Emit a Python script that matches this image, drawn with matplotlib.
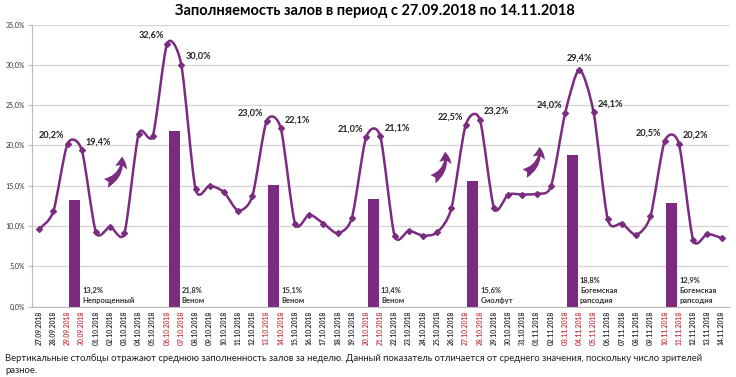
import numpy as np
import matplotlib.pyplot as plt
from matplotlib.path import Path
from matplotlib.patches import PathPatch

# ---------------- data ----------------
dates = ["27.09.2018", "28.09.2018", "29.09.2018", "30.09.2018", "01.10.2018", "02.10.2018",
         "03.10.2018", "04.10.2018", "05.10.2018", "06.10.2018", "07.10.2018", "08.10.2018",
         "09.10.2018", "10.10.2018", "11.10.2018", "12.10.2018", "13.10.2018", "14.10.2018",
         "15.10.2018", "16.10.2018", "17.10.2018", "18.10.2018", "19.10.2018", "20.10.2018",
         "21.10.2018", "22.10.2018", "23.10.2018", "24.10.2018", "25.10.2018", "26.10.2018",
         "27.10.2018", "28.10.2018", "29.10.2018", "30.10.2018", "31.10.2018", "01.11.2018",
         "02.11.2018", "03.11.2018", "04.11.2018", "05.11.2018", "06.11.2018", "07.11.2018",
         "08.11.2018", "09.11.2018", "10.11.2018", "11.11.2018", "12.11.2018", "13.11.2018",
         "14.11.2018"]
daily = [9.6, 11.8, 20.2, 19.4, 9.2, 9.9, 9.1, 21.4, 21.2, 32.6, 30.0, 14.6,
         15.0, 14.2, 11.9, 13.7, 23.0, 22.1, 10.3, 11.4, 10.3, 9.1, 11.0, 21.0,
         21.1, 8.8, 9.4, 8.8, 9.2, 12.2, 22.5, 23.2, 12.2, 13.9, 13.9, 14.0,
         14.9, 24.0, 29.4, 24.1, 10.8, 10.3, 8.9, 11.2, 20.5, 20.2, 8.3, 9.0, 8.5]
red_dates = ["29.09.2018", "30.09.2018", "06.10.2018", "07.10.2018", "13.10.2018",
             "14.10.2018", "20.10.2018", "21.10.2018", "27.10.2018", "28.10.2018",
             "03.11.2018", "04.11.2018", "05.11.2018", "10.11.2018", "11.11.2018"]
labeled_dates = ["29.09.2018", "30.09.2018", "06.10.2018", "07.10.2018", "13.10.2018",
                 "14.10.2018", "20.10.2018", "21.10.2018", "27.10.2018", "28.10.2018",
                 "03.11.2018", "04.11.2018", "05.11.2018", "10.11.2018", "11.11.2018"]

# weekly bars (placed between Saturday and Sunday)
week_start = ["29.09.2018", "06.10.2018", "13.10.2018", "20.10.2018",
              "27.10.2018", "03.11.2018", "10.11.2018"]
week_avg = [13.2, 21.8, 15.1, 13.4, 15.6, 18.8, 12.9]
week_film = ["Непрощенный", "Веном", "Веном", "Веном", "Смолфут",
             "Богемская\nрапсодия", "Богемская\nрапсодия"]

title = "Заполняемость залов в период с 27.09.2018 по 14.11.2018"
caption = ("Вертикальные столбцы отражают среднюю заполненность залов за неделю. "
           "Данный показатель отличается от среднего значения, поскольку число зрителей\nразное.")

# ---------------- style ----------------
PURPLE = "#7b2c80"
RED = "#c8414b"
plt.rcParams['font.family'] = ['Lato', 'DejaVu Sans']

fig = plt.figure(figsize=(7.36, 3.77), dpi=100)
ax = fig.add_axes([0.0435, 0.187, 0.9465, 0.748])

x = np.arange(len(dates))
y = np.array(daily)

# bars
bx = [dates.index(d) + 0.5 for d in week_start]
ax.bar(bx, week_avg, width=0.75, color=PURPLE, zorder=2)
for xi, v, name in zip(bx, week_avg, week_film):
    ax.annotate(f"{v:.1f}%".replace(".", ",") + "\n" + name, (xi + 0.4, 0.3),
                xytext=(2, 0), textcoords="offset pixels", ha="left", va="bottom",
                fontsize=5.4, fontweight="bold", color="#333333", linespacing=1.5)

# smoothed line (bezier through the points, like Excel's smooth line)
pts = np.column_stack([x, y])
verts = [pts[0]]
codes = [Path.MOVETO]
for i in range(len(pts) - 1):
    p0 = pts[i - 1] if i > 0 else pts[i]
    p1, p2 = pts[i], pts[i + 1]
    p3 = pts[i + 2] if i + 2 < len(pts) else pts[i + 1]
    c1 = p1 + (p2 - p0) / 8
    c2 = p2 - (p3 - p1) / 8
    verts += [c1, c2, p2]
    codes += [Path.CURVE4] * 3
ax.add_patch(PathPatch(Path(verts, codes), fill=False, edgecolor=PURPLE, lw=1.8, zorder=3))
ax.plot(x, y, ls="none", marker="D", ms=3, color=PURPLE, zorder=4)

# value labels at the weekend peaks
for d in labeled_dates:
    i = dates.index(d)
    txt = f"{daily[i]:.1f}%".replace(".", ",")
    if d == "04.11.2018":
        off, ha = (0, 7), "center"
    elif d in ("30.09.2018", "07.10.2018", "14.10.2018", "21.10.2018",
               "28.10.2018", "05.11.2018", "11.11.2018"):
        off, ha = (4, 4), "left"
    else:
        off, ha = (-3, 4), "right"
    ax.annotate(txt, (i, daily[i]), xytext=off, textcoords="offset pixels",
                ha=ha, va="bottom", fontsize=6.6, fontweight="bold", color="#222222")

# curved arrows
for tail, head in [((4.7, 15.3), (5.83, 18.6)), ((27.7, 15.8), (28.55, 19.2)),
                   ((34.15, 16.5), (35.2, 19.8))]:
    ax.annotate("", xy=head, xytext=tail,
                arrowprops=dict(arrowstyle="fancy,head_width=0.9,head_length=0.8,tail_width=0.7",
                                connectionstyle="arc3,rad=0.35", color=PURPLE, lw=0,
                                shrinkA=0, shrinkB=0))

# axes
ax.set_xlim(-0.5, len(dates) - 0.5)
ax.set_ylim(0, 35)
ax.set_yticks(np.arange(0, 36, 5))
ax.set_yticklabels([f"{v:.1f}%".replace(".", ",") for v in np.arange(0, 36, 5)],
                   fontsize=5, color="#333333")
ax.set_xticks(x)
ax.set_xticklabels(dates, rotation=90, fontsize=4.9, fontweight="bold")
for lbl in ax.get_xticklabels():
    lbl.set_color(RED if lbl.get_text() in red_dates else "#333333")
ax.tick_params(axis="x", length=0, pad=3)
ax.tick_params(axis="y", length=3, color="#bbbbbb", pad=2)
ax.grid(axis="y", color="#d4d4d4", lw=0.9, zorder=0)
ax.set_axisbelow(True)
for s in ["top", "right"]:
    ax.spines[s].set_visible(False)
ax.spines["left"].set_color("#bbbbbb")
ax.spines["bottom"].set_color("#bbbbbb")

fig.text(0.51, 0.972, title, ha="center", va="center", fontsize=10.5, fontweight="bold")
fig.text(0.007, 0.033, caption, ha="left", va="center", fontsize=6.85, color="#222222",
         linespacing=1.35)

fig.savefig("out.png", dpi=100)
